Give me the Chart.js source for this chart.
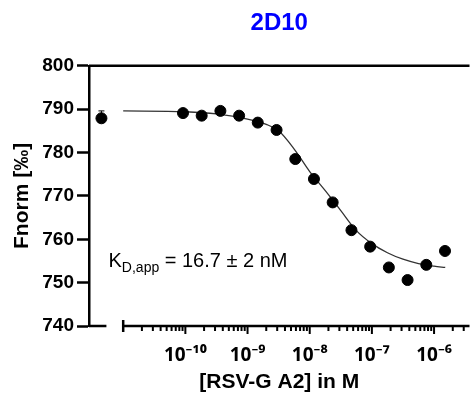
<!DOCTYPE html>
<html>
<head>
<meta charset="utf-8">
<script src="https://cdn.jsdelivr.net/npm/chart.js@4"></script>
<style>
  body { margin: 0; background: #fff; }
  canvas { display: block; }
</style>
</head>
<body>
<canvas id="kdChart" width="476" height="395"></canvas>
<script>
// concentraciones de RSV-G A2 (M), diluciones 1:1
const concM = [9.16e-11, 1.83e-10, 3.66e-10, 7.32e-10, 1.46e-9, 2.93e-9, 5.86e-9, 1.17e-8,
  2.34e-8, 4.69e-8, 9.38e-8, 1.875e-7, 3.75e-7, 7.5e-7, 1.5e-6];
const fnorm = [789.1, 788.5, 789.6, 788.5, 786.9, 785.2, 778.5, 773.9,
  768.5, 762.1, 758.3, 753.5, 750.6, 754.1, 757.3];

// punto de referencia en el tramo cortado del eje (unidades log10)
const refPointX = -11.35;
const refPointY = 787.9;
const refPointErr = 1.7;

// curva de ajuste (log10 M, Fnorm)
const fitLogConc = [-11.0, -10.0, -9.5, -9.0, -8.7, -8.5, -8.25, -8.0, -7.75, -7.5, -7.25, -7.0, -6.75, -6.5, -6.25, -6.0, -5.82];
const fitFnorm = [789.6, 789.4, 788.9, 787.7, 786.5, 785.0, 780.8, 775.6, 771.2, 766.6, 762.0, 759.0, 756.9, 755.4, 754.4, 753.8, 753.5];

// eje x
const xDecades = [-10, -9, -8, -7, -6];
const xTickLabels = ['10⁻¹⁰', '10⁻⁹', '10⁻⁸', '10⁻⁷', '10⁻⁶'];
const xMin = -11.55, xMax = -5.43, axisStart = -11, breakEnd = -11.27;

const FONT = 'Arial, "Liberation Sans", sans-serif';
const SUP_FONT = '"Noto Sans", "DejaVu Sans", sans-serif';

// ejes con corte, marcas menores y barra de error
const axisPlugin = {
  id: 'brokenAxis',
  afterDraw(chart) {
    const { ctx, chartArea, scales } = chart;
    const x = scales.x, y = scales.y;
    const yb = y.getPixelForValue(740);
    const yt = y.getPixelForValue(800);
    ctx.save();
    ctx.strokeStyle = '#000';
    ctx.lineWidth = 2.5;
    ctx.beginPath();
    ctx.moveTo(chartArea.left, yt);
    ctx.lineTo(chartArea.right, yt);
    ctx.moveTo(chartArea.left, yb);
    ctx.lineTo(x.getPixelForValue(breakEnd), yb);
    const xs = x.getPixelForValue(axisStart);
    ctx.moveTo(xs, yb);
    ctx.lineTo(chartArea.right, yb);
    ctx.moveTo(xs, yb - 6);
    ctx.lineTo(xs, yb + 6);
    ctx.stroke();

    ctx.lineWidth = 2;
    ctx.beginPath();
    for (let e = axisStart; e <= -6; e++) {
      for (let k = 1; k <= 9; k++) {
        const v = e + Math.log10(k);
        if (v <= axisStart || v > xMax) continue;
        const px = x.getPixelForValue(v);
        ctx.moveTo(px, yb);
        ctx.lineTo(px, yb + (k === 1 ? 8 : 5));
      }
    }
    ctx.stroke();

    // barra de error del punto de referencia
    const rx = x.getPixelForValue(refPointX);
    const ry = y.getPixelForValue(refPointY);
    const ey = y.getPixelForValue(refPointY + refPointErr);
    ctx.lineWidth = 1;
    ctx.beginPath();
    ctx.moveTo(rx, ry);
    ctx.lineTo(rx, ey);
    ctx.moveTo(rx - 3, ey);
    ctx.lineTo(rx + 3, ey);
    ctx.stroke();

    // texto KD
    let tx = chartArea.left + 19.5;
    const ty = y.getPixelForValue(753.6);
    ctx.fillStyle = '#000';
    ctx.textBaseline = 'alphabetic';
    ctx.font = '20px ' + FONT;
    ctx.fillText('K', tx, ty);
    tx += ctx.measureText('K').width;
    ctx.font = '14px ' + FONT;
    ctx.fillText('D,app', tx, ty + 5);
    tx += ctx.measureText('D,app').width;
    ctx.font = '20px ' + FONT;
    ctx.fillText(' = 16.7 ± 2 nM', tx, ty);
    ctx.restore();
  }
};

const ctx = document.getElementById('kdChart').getContext('2d');
new Chart(ctx, {
  type: 'scatter',
  data: {
    datasets: [
      {
        type: 'line',
        label: 'Ajuste',
        data: fitLogConc.map((v, i) => ({ x: v, y: fitFnorm[i] })),
        borderColor: '#333',
        borderWidth: 1.3,
        pointRadius: 0,
        cubicInterpolationMode: 'monotone',
        order: 2
      },
      {
        label: 'Fnorm',
        data: concM.map((c, i) => ({ x: Math.log10(c), y: fnorm[i] })),
        backgroundColor: '#000',
        borderColor: '#000',
        pointRadius: 5.5,
        order: 1
      },
      {
        label: 'Referencia',
        data: [{ x: refPointX, y: refPointY }],
        backgroundColor: '#000',
        borderColor: '#000',
        pointRadius: 5.5,
        order: 1
      }
    ]
  },
  options: {
    responsive: false,
    animation: false,
    layout: { padding: 0 },
    plugins: {
      legend: { display: false },
      tooltip: { enabled: false },
      title: {
        display: true,
        text: '2D10',
        color: '#0000ff',
        fullSize: false,
        font: { family: FONT, size: 24, weight: 'bold' },
        padding: { top: 9, bottom: 28 }
      }
    },
    scales: {
      x: {
        type: 'linear',
        min: xMin,
        max: xMax,
        afterBuildTicks: scale => {
          scale.ticks = xDecades.map(v => ({ value: v }));
        },
        afterFit: scale => { scale.height = 69; },
        grid: { display: false },
        border: { display: false },
        ticks: {
          autoSkip: false,
          maxRotation: 0,
          padding: 10,
          color: '#000',
          font: { family: SUP_FONT, size: 19, weight: 'bold' },
          callback: value => {
            const i = xDecades.indexOf(value);
            return i >= 0 ? xTickLabels[i] : '';
          }
        },
        title: {
          display: true,
          text: '[RSV-G A2] in M',
          color: '#000',
          font: { family: FONT, size: 21, weight: 'bold' },
          padding: { top: 0, bottom: 0 }
        }
      },
      y: {
        min: 740,
        max: 800,
        afterFit: scale => { scale.width = 89; },
        grid: {
          drawOnChartArea: false,
          drawTicks: true,
          tickLength: 12,
          tickWidth: 2.5,
          tickColor: '#000'
        },
        border: { display: true, color: '#000', width: 2.5 },
        ticks: {
          stepSize: 10,
          padding: 3,
          color: '#000',
          font: { family: FONT, size: 19, weight: 'bold' }
        },
        title: {
          display: true,
          text: 'Fnorm [‰]',
          color: '#000',
          font: { family: FONT, size: 21, weight: 'bold' },
          padding: { top: 10, bottom: 0 }
        }
      }
    }
  },
  plugins: [axisPlugin]
});
</script>
</body>
</html>
